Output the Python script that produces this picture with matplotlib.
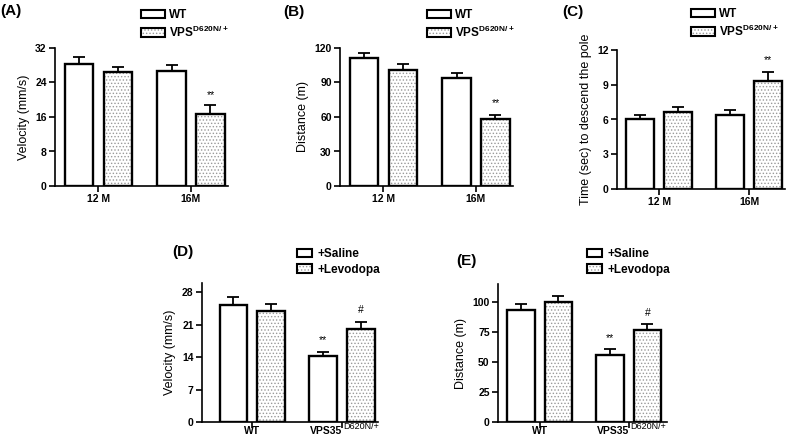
import matplotlib
matplotlib.use('Agg')
import matplotlib.pyplot as plt
import matplotlib.transforms as mtransforms
from matplotlib.patches import Patch

plt.rcParams['font.family'] = ['Liberation Sans', 'DejaVu Sans']
plt.rcParams['mathtext.fontset'] = 'custom'
plt.rcParams['mathtext.rm'] = 'Liberation Sans'
plt.rcParams['mathtext.bf'] = 'Liberation Sans:bold'
plt.rcParams['hatch.linewidth'] = 0.6

# ---- data ----
age_groups = ['12 M', '16M']
geno_labels = ['WT', r'VPS$^{\mathbf{D620N/+}}$']

vel_wt = [28.4, 26.7]
vel_wt_err = [1.4, 1.4]
vel_vps = [26.4, 16.8]
vel_vps_err = [1.2, 1.9]

dist_wt = [111, 93.6]
dist_wt_err = [4.6, 4.4]
dist_vps = [101, 58]
dist_vps_err = [5.0, 4.0]

pole_wt = [6.0, 6.4]
pole_wt_err = [0.4, 0.4]
pole_vps = [6.65, 9.35]
pole_vps_err = [0.45, 0.75]

treat_groups = ['WT', 'VPS35']
treat_sup = 'D620N/+'
treat_labels = ['+Saline', '+Levodopa']

tvel_sal = [25.3, 14.3]
tvel_sal_err = [1.6, 0.8]
tvel_lev = [24.0, 20.1]
tvel_lev_err = [1.5, 1.5]

tdist_sal = [93.6, 55.8]
tdist_sal_err = [4.7, 5.0]
tdist_lev = [100, 77]
tdist_lev_err = [5.3, 5.0]

W, H = 788, 440
fig = plt.figure(figsize=(W / 100, H / 100), dpi=100)


def px_axes(left, top, right, bottom):
    return fig.add_axes([left / W, 1 - bottom / H, (right - left) / W, (bottom - top) / H])


def panel(ax, a, a_err, b, b_err, groups, ylim, yticks, ylabel, xlim,
          marks, mark_gap, sup=None):
    x = [0, 1]
    off, bw = 0.21, 0.31
    xa = [i - off for i in x]
    xb = [i + off for i in x]
    # open bars
    ax.bar(xa, a, bw, color='white', edgecolor='black', linewidth=1.7, zorder=3)
    # dotted bars: hatch layer, then outline
    ax.bar(xb, b, bw, color='white', edgecolor='#9a9a9a', hatch='.....',
           linewidth=0, zorder=3)
    ax.bar(xb, b, bw, fill=False, edgecolor='black', linewidth=1.7, zorder=4)
    ax.errorbar(xa, a, yerr=[[0] * 2, a_err], fmt='none', ecolor='black',
                elinewidth=1.3, capsize=4.5, capthick=1.3, zorder=2)
    ax.errorbar(xb, b, yerr=[[0] * 2, b_err], fmt='none', ecolor='black',
                elinewidth=1.3, capsize=4.5, capthick=1.3, zorder=2)
    # significance marks
    for (idx, which, txt) in marks:
        xs = xa if which == 'a' else xb
        vals = a if which == 'a' else b
        errs = a_err if which == 'a' else b_err
        ax.text(xs[idx], vals[idx] + errs[idx] + mark_gap, txt,
                ha='center', va='bottom', fontsize=7.5)
    ax.set_xlim(*xlim)
    ax.set_ylim(*ylim)
    ax.set_yticks(yticks)
    ax.set_xticks(x)
    ax.set_ylabel(ylabel, fontsize=9)
    for s in ['top', 'right']:
        ax.spines[s].set_visible(False)
    for s in ['left', 'bottom']:
        ax.spines[s].set_linewidth(1.2)
    ax.tick_params(axis='both', width=1.2, length=4, labelsize=7.5, pad=2)
    if sup is None:
        ax.set_xticklabels(groups)
    else:
        # GraphPad style: main text right-aligned at the tick, superscript after it
        ax.set_xticklabels([groups[0], ''])
        ax.tick_params(axis='x', pad=4.5)
        for lab in ax.get_xticklabels():
            lab.set_va('baseline')
        base = mtransforms.blended_transform_factory(ax.transData, ax.transAxes)
        t_main = mtransforms.offset_copy(base, fig=fig, x=0, y=-8.5, units='points')
        t_sup = mtransforms.offset_copy(base, fig=fig, x=1, y=-5, units='points')
        ax.text(x[1], 0, groups[1], transform=t_main, ha='right', va='baseline',
                fontsize=7.5, fontweight='bold')
        ax.text(x[1], 0, sup, transform=t_sup, ha='left', va='baseline',
                fontsize=6.5)
    for lab in ax.get_xticklabels() + ax.get_yticklabels():
        lab.set_fontweight('bold')


def legend(ax, labels, x, y, hl=2.0):
    h1 = Patch(facecolor='white', edgecolor='black', linewidth=1.5)
    h2 = (Patch(facecolor='white', edgecolor='#9a9a9a', hatch='.....', linewidth=0),
          Patch(fill=False, edgecolor='black', linewidth=1.5))
    ax.legend([h1, h2], labels, loc='upper left', bbox_to_anchor=(x / W, 1 - y / H),
              bbox_transform=fig.transFigure, frameon=False,
              prop={'weight': 'bold', 'size': 8.5}, handlelength=hl,
              handleheight=0.75, handletextpad=0.4, labelspacing=0.3,
              borderpad=0, borderaxespad=0)


axA = px_axes(55, 48, 228, 186)
panel(axA, vel_wt, vel_wt_err, vel_vps, vel_vps_err, age_groups, (0, 32),
      [0, 8, 16, 24, 32], 'Velocity (mm/s)', (-0.47, 1.4), [(1, 'b', '**')], 1.3)
legend(axA, geno_labels, 141, 9)

axB = px_axes(340, 48, 513, 186)
panel(axB, dist_wt, dist_wt_err, dist_vps, dist_vps_err, age_groups, (0, 120),
      [0, 30, 60, 90, 120], 'Distance (m)', (-0.47, 1.4), [(1, 'b', '**')], 6)
legend(axB, geno_labels, 427, 9)

axC = px_axes(617, 50, 785, 189)
panel(axC, pole_wt, pole_wt_err, pole_vps, pole_vps_err, age_groups, (0, 12),
      [0, 3, 6, 9, 12], 'Time (sec) to descend the pole', (-0.47, 1.4),
      [(1, 'b', '**')], 0.6)
legend(axC, geno_labels, 691, 8)

axD = px_axes(202, 283, 378, 422)
panel(axD, tvel_sal, tvel_sal_err, tvel_lev, tvel_lev_err, treat_groups, (0, 30),
      [0, 7, 14, 21, 28], 'Velocity (mm/s)', (-0.56, 1.4),
      [(1, 'a', '**'), (1, 'b', '#')], 1.6, sup=treat_sup)
legend(axD, treat_labels, 297, 248, hl=1.3)

axE = px_axes(498, 284, 667, 422)
panel(axE, tdist_sal, tdist_sal_err, tdist_lev, tdist_lev_err, treat_groups, (0, 115),
      [0, 25, 50, 75, 100], 'Distance (m)', (-0.47, 1.43),
      [(1, 'a', '**'), (1, 'b', '#')], 5, sup=treat_sup)
legend(axE, treat_labels, 587, 248, hl=1.3)

# panel letters
for txt, x, y in [('(A)', 0, 11), ('(B)', 283, 12), ('(C)', 562, 12),
                  ('(D)', 172, 252), ('(E)', 456, 261)]:
    fig.text(x / W, 1 - y / H, txt, fontsize=11, fontweight='bold', va='center')

plt.savefig('out.png', dpi=100)
plt.close()
